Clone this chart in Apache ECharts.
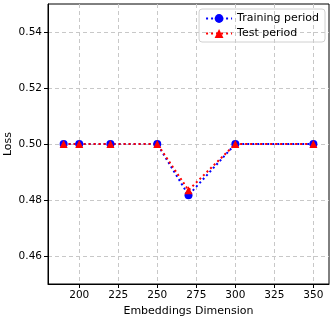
<!DOCTYPE html>
<html>
<head>
<meta charset="utf-8">
<script src="https://cdn.jsdelivr.net/npm/echarts@6/dist/echarts.min.js"></script>
<style>
  html, body { margin: 0; padding: 0; background: #fff; }
  #chart { width: 335px; height: 320px; }
</style>
</head>
<body>
<div id="chart"></div>
<script>
// embedding sizes tried
const dims = [190, 200, 220, 250, 270, 300, 350];
const trainLoss = [0.500, 0.500, 0.500, 0.500, 0.4817, 0.500, 0.500];
const testLoss = [0.500, 0.500, 0.500, 0.500, 0.4835, 0.500, 0.500];
const xTicks = [200, 225, 250, 275, 300, 325, 350];
const yTicks = [0.46, 0.48, 0.50, 0.52, 0.54];

const font = 'DejaVu Sans';
const chart = echarts.init(document.getElementById('chart'));

const option = {
  animation: false,
  textStyle: { fontFamily: font },
  grid: {
    left: 48, right: 6, top: 4, bottom: 36,
    outerBoundsMode: 'none', containLabel: false,
    show: true, borderColor: '#000', borderWidth: 1
  },
  legend: {
    right: 10, top: 9,
    orient: 'vertical',
    borderColor: '#d0d0d0', borderWidth: 1, borderRadius: 3,
    padding: [4, 6, 3, 6],
    itemGap: 4, itemWidth: 26, itemHeight: 11,
    textStyle: { fontFamily: font, fontSize: 11, color: '#000' },
    data: ['Training period', 'Test period']
  },
  xAxis: {
    type: 'value', min: 180, max: 360,
    name: 'Embeddings Dimension', nameLocation: 'middle', nameGap: 22,
    nameMoveOverlap: false,
    nameTextStyle: { fontFamily: font, fontSize: 11, color: '#000' },
    axisLine: { show: true, onZero: false, lineStyle: { color: '#000' } },
    axisTick: { show: true, length: 4, customValues: xTicks, lineStyle: { color: '#000' } },
    axisLabel: { customValues: xTicks, fontFamily: font, fontSize: 10.5, color: '#000', margin: 6 },
    splitLine: { show: true, lineStyle: { color: '#c8c8c8', type: [4, 3] } }
  },
  yAxis: {
    type: 'value', min: 0.45, max: 0.55,
    name: 'Loss', nameLocation: 'middle', nameGap: 34,
    nameMoveOverlap: false,
    nameTextStyle: { fontFamily: font, fontSize: 11, color: '#000' },
    axisLine: { show: true, lineStyle: { color: '#000' } },
    axisTick: { show: true, length: 4, customValues: yTicks, lineStyle: { color: '#000' } },
    axisLabel: {
      customValues: yTicks, fontFamily: font, fontSize: 10.5, color: '#000', margin: 6,
      formatter: v => v.toFixed(2)
    },
    splitLine: { show: true, lineStyle: { color: '#c8c8c8', type: [4, 3] } }
  },
  series: [
    {
      name: 'Training period', type: 'line',
      data: dims.map((d, i) => [d, trainLoss[i]]),
      symbol: 'circle', symbolSize: 8,
      itemStyle: { color: '#0000ff' },
      lineStyle: { color: '#0000ff', width: 2, type: [2, 3] }
    },
    {
      name: 'Test period', type: 'line',
      data: dims.map((d, i) => [d, testLoss[i]]),
      symbol: 'triangle', symbolSize: 8,
      itemStyle: { color: '#ff0000' },
      lineStyle: { color: '#ff0000', width: 2, type: [2, 3] }
    }
  ]
};

chart.setOption(option);
</script>
</body>
</html>
